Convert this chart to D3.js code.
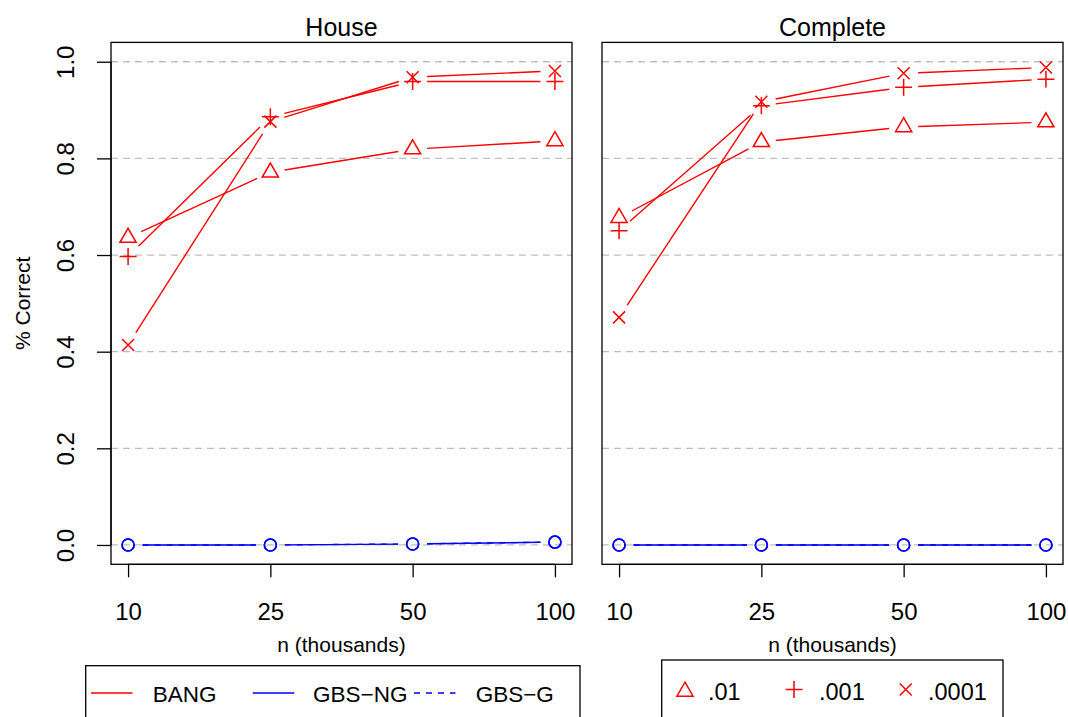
<!DOCTYPE html>
<html>
<head>
<meta charset="utf-8">
<script src="https://cdn.jsdelivr.net/npm/d3@7"></script>
<style>
  html, body { margin: 0; padding: 0; background: #fff; }
  svg text { font-family: "Liberation Sans", Arial, Helvetica, sans-serif; fill: #000; }
</style>
</head>
<body>
<svg id="chart" width="1068" height="717"></svg>
<script>
// ---- data ----
const sizes = ["10", "25", "50", "100"];          // n (thousands)
const panels = ["House", "Complete"];
const yTicks = [0, 0.2, 0.4, 0.6, 0.8, 1.0];

// BANG, one series per significance level
const bangHouse01    = [0.636, 0.771, 0.819, 0.836];
const bangHouse001   = [0.597, 0.886, 0.959, 0.959];
const bangHouse0001  = [0.414, 0.876, 0.968, 0.981];
const bangComplete01   = [0.677, 0.834, 0.865, 0.875];
const bangComplete001  = [0.650, 0.909, 0.947, 0.964];
const bangComplete0001 = [0.471, 0.917, 0.976, 0.988];

// GBS variants
const gbsNgHouse    = [0.000, 0.000, 0.002, 0.006];
const gbsGHouse     = [0.000, 0.000, 0.002, 0.006];
const gbsNgComplete = [0.000, 0.000, 0.000, 0.000];
const gbsGComplete  = [0.000, 0.000, 0.000, 0.000];

const levels = [".01", ".001", ".0001"];
const methods = ["BANG", "GBS\u2212NG", "GBS\u2212G"];

const panelData = [
  { title: panels[0],
    bang: [bangHouse01, bangHouse001, bangHouse0001],
    gbsNg: gbsNgHouse, gbsG: gbsGHouse },
  { title: panels[1],
    bang: [bangComplete01, bangComplete001, bangComplete0001],
    gbsNg: gbsNgComplete, gbsG: gbsGComplete }
];

// ---- layout ----
const svg = d3.select("#chart");
const RED = "#ff0000", BLUE = "#0000ff", GRID = "#bebebe";
const panelBoxes = [{ x0: 111, x1: 572 }, { x0: 602, x1: 1063 }];
const plotTop = 42.4, plotBottom = 564.3;
const y = d3.scaleLinear().domain([-0.04, 1.04]).range([plotBottom, plotTop]);
const sym = 6;          // symbol radius unit
const gap = 14.5;       // gap left between lines and points

// symbol paths, centred on the origin
function triPath(s) {
  const r = 1.555 * s, h = 1.347 * s, yc = 0.778 * s;
  return `M0,${-r}L${h},${yc}L${-h},${yc}Z`;
}
function plusPath(s) {
  const a = 1.414 * s;
  return `M${-a},0H${a}M0,${-a}V${a}`;
}
function crossPath(s) {
  return `M${-s},${-s}L${s},${s}M${-s},${s}L${s},${-s}`;
}
const symbolFns = [triPath, plusPath, crossPath];

// line segments between successive points, trimmed around the markers
function gappedSegments(pts) {
  const segs = [];
  for (let i = 0; i < pts.length - 1; i++) {
    const [xa, ya] = pts[i], [xb, yb] = pts[i + 1];
    const dx = xb - xa, dy = yb - ya, len = Math.hypot(dx, dy);
    if (len <= 2 * gap) continue;
    const ux = dx / len, uy = dy / len;
    segs.push([xa + ux * gap, ya + uy * gap, xb - ux * gap, yb - uy * gap]);
  }
  return segs;
}

panelData.forEach((pd, pi) => {
  const box = panelBoxes[pi];
  const x = d3.scaleLinear().domain([0.88, 4.12]).range([box.x0, box.x1]);
  const xi = i => x(i + 1);
  const g = svg.append("g");

  // horizontal reference lines
  g.selectAll("line.grid").data(yTicks).join("line")
    .attr("x1", box.x0).attr("x2", box.x1)
    .attr("y1", d => y(d)).attr("y2", d => y(d))
    .attr("stroke", GRID).attr("stroke-width", 1.3)
    .attr("stroke-dasharray", "7,5");

  // GBS series (dashed first, solid on top)
  [[pd.gbsG, "6,6"], [pd.gbsNg, null]].forEach(([vals, dash]) => {
    const pts = vals.map((v, i) => [xi(i), y(v)]);
    g.selectAll(null).data(gappedSegments(pts)).join("line")
      .attr("x1", d => d[0]).attr("y1", d => d[1])
      .attr("x2", d => d[2]).attr("y2", d => d[3])
      .attr("stroke", BLUE).attr("stroke-width", 1.4)
      .attr("stroke-dasharray", dash);
    g.selectAll(null).data(pts).join("circle")
      .attr("cx", d => d[0]).attr("cy", d => d[1]).attr("r", sym)
      .attr("fill", "none").attr("stroke", BLUE).attr("stroke-width", 1.6);
  });

  // BANG series, one marker per level
  pd.bang.forEach((vals, li) => {
    const pts = vals.map((v, i) => [xi(i), y(v)]);
    g.selectAll(null).data(gappedSegments(pts)).join("line")
      .attr("x1", d => d[0]).attr("y1", d => d[1])
      .attr("x2", d => d[2]).attr("y2", d => d[3])
      .attr("stroke", RED).attr("stroke-width", 1.4);
    g.selectAll(null).data(pts).join("path")
      .attr("transform", d => `translate(${d[0]},${d[1]})`)
      .attr("d", symbolFns[li](sym))
      .attr("fill", "none").attr("stroke", RED).attr("stroke-width", 1.5);
  });

  // frame
  g.append("rect")
    .attr("x", box.x0).attr("y", plotTop)
    .attr("width", box.x1 - box.x0).attr("height", plotBottom - plotTop)
    .attr("fill", "none").attr("stroke", "#000").attr("stroke-width", 1.3);

  // x axis
  const xAxis = d3.axisBottom(x)
    .tickValues([1, 2, 3, 4])
    .tickFormat(d => sizes[d - 1])
    .tickSize(13).tickPadding(24);
  const ax = g.append("g").attr("transform", `translate(0,${plotBottom})`).call(xAxis);
  ax.select(".domain")
    .attr("d", `M${x(1)},0H${x(4)}`).attr("stroke-width", 1.3);
  ax.selectAll(".tick line").attr("stroke-width", 1.3);
  ax.selectAll(".tick text")
    .attr("font-size", 24).attr("dy", null).attr("y", 56)
    .style("font-family", "'Liberation Sans', Arial, sans-serif");

  g.append("text")
    .attr("x", (box.x0 + box.x1) / 2).attr("y", 652)
    .attr("text-anchor", "middle").attr("font-size", 21)
    .text("n (thousands)");

  // panel title
  g.append("text")
    .attr("x", (box.x0 + box.x1) / 2).attr("y", 35.5)
    .attr("text-anchor", "middle").attr("font-size", 25)
    .text(pd.title);

  // y axis on the first panel only
  if (pi === 0) {
    const yAxis = d3.axisLeft(y).tickValues(yTicks)
      .tickFormat(d3.format(".1f")).tickSize(14).tickPadding(10);
    const ay = g.append("g").attr("transform", `translate(${box.x0},0)`).call(yAxis);
    ay.select(".domain").attr("d", `M0,${y(0)}V${y(1)}`).attr("stroke-width", 1.3);
    ay.selectAll(".tick line").attr("stroke-width", 1.3);
    ay.selectAll(".tick text")
      .attr("font-size", 24).attr("x", null).attr("dy", null)
      .attr("text-anchor", "middle")
      .attr("transform", "translate(-37,0) rotate(-90)")
      .style("font-family", "'Liberation Sans', Arial, sans-serif");

    svg.append("text")
      .attr("transform", `translate(29.5,${(plotTop + plotBottom) / 2}) rotate(-90)`)
      .attr("text-anchor", "middle").attr("font-size", 21)
      .text("% Correct");
  }
});

// ---- legends ----
const legA = svg.append("g");
legA.append("rect")
  .attr("x", 85.7).attr("y", 665.7).attr("width", 494.3).attr("height", 80)
  .attr("fill", "none").attr("stroke", "#000").attr("stroke-width", 1.3);
const legAItems = [
  { lx: 91, tx: 152.7, color: RED, dash: null },
  { lx: 252.7, tx: 313, color: BLUE, dash: null },
  { lx: 414, tx: 475.7, color: BLUE, dash: "6,6" }
];
legAItems.forEach((it, i) => {
  legA.append("line")
    .attr("x1", it.lx).attr("x2", it.lx + 41.5)
    .attr("y1", 693).attr("y2", 693)
    .attr("stroke", it.color).attr("stroke-width", 1.4)
    .attr("stroke-dasharray", it.dash);
  legA.append("text")
    .attr("x", it.tx).attr("y", 702).attr("font-size", 22.5)
    .text(methods[i]);
});

const legB = svg.append("g");
legB.append("rect")
  .attr("x", 661.7).attr("y", 660).attr("width", 341.3).attr("height", 80)
  .attr("fill", "none").attr("stroke", "#000").attr("stroke-width", 1.3);
const legBItems = [{ mx: 685, tx: 708 }, { mx: 794, tx: 819 }, { mx: 905.7, tx: 928 }];
legBItems.forEach((it, i) => {
  legB.append("path")
    .attr("transform", `translate(${it.mx},${i === 0 ? 691.5 : 689.5})`)
    .attr("d", symbolFns[i](sym))
    .attr("fill", "none").attr("stroke", RED).attr("stroke-width", 1.5);
  legB.append("text")
    .attr("x", it.tx).attr("y", 700).attr("font-size", 23.5)
    .text(levels[i]);
});
</script>
</body>
</html>
